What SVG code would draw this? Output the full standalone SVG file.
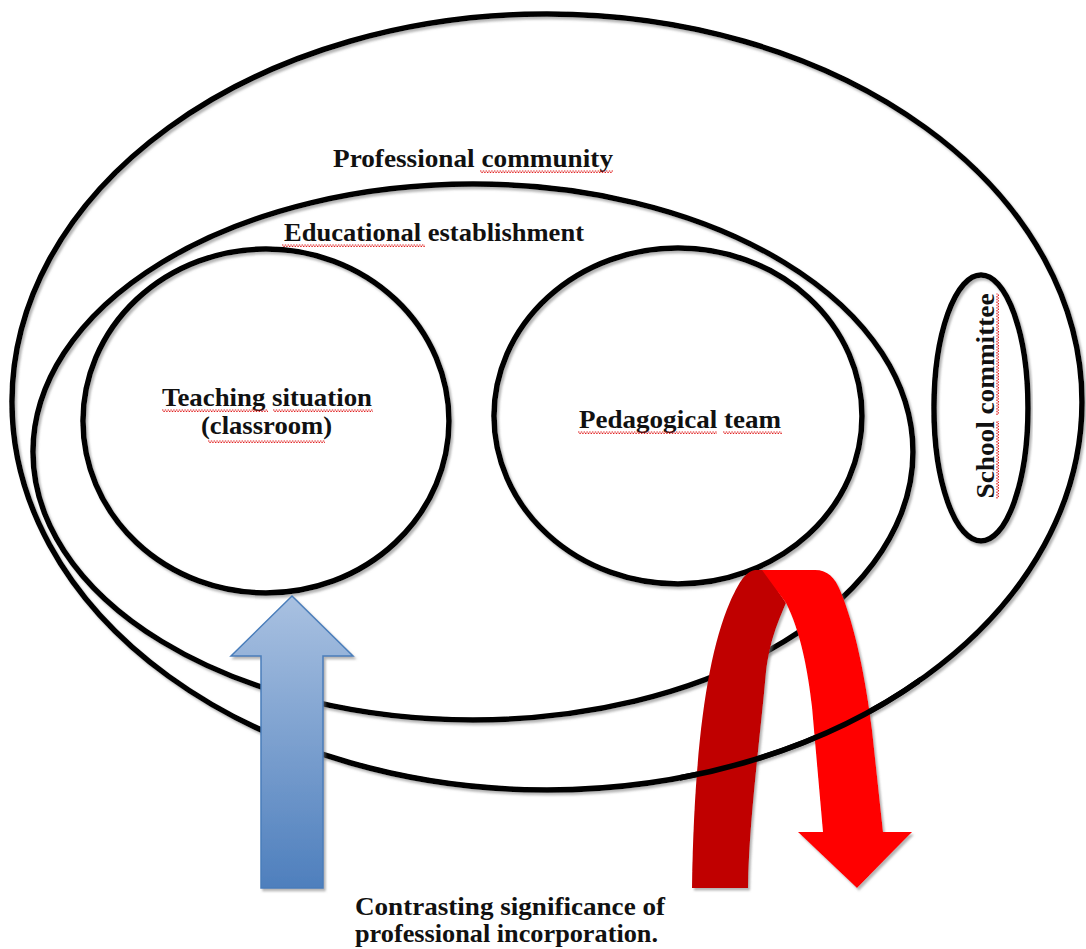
<svg xmlns="http://www.w3.org/2000/svg" xmlns:xlink="http://www.w3.org/1999/xlink" width="1086" height="949" viewBox="0 0 1086 949">
  <defs>
    <style>
      .ring { fill: none; stroke: #000; stroke-width: 5.5; }
      .shadowed { filter: url(#sh); }
      .lbl { font-family: "Liberation Serif", "Times New Roman", serif; font-weight: bold; fill: #111; }
      .sq { stroke: #e02020; stroke-width: 1.2; stroke-dasharray: 1.4 1.4; fill: none; }
      .sq2 { stroke: #e02020; stroke-width: 1.2; stroke-dasharray: 1.4 1.4; stroke-dashoffset: 1.4; fill: none; }
    </style>
    <filter id="sh" x="-5%" y="-5%" width="110%" height="110%">
      <feDropShadow dx="2" dy="2.5" stdDeviation="1" flood-color="#777" flood-opacity="0.55"/>
    </filter>
    <linearGradient id="blueGrad" x1="0" y1="596" x2="0" y2="888" gradientUnits="userSpaceOnUse">
      <stop offset="0" stop-color="#a9c1e1"/>
      <stop offset="1" stop-color="#4e7fbd"/>
    </linearGradient>
    <clipPath id="redArea">
      <rect x="680" y="560" width="240" height="340"/>
    </clipPath>
    <ellipse id="outerShape" cx="547" cy="402" rx="535" ry="388"/>
  </defs>

  <rect x="0" y="0" width="1086" height="949" fill="#fff"/>

  <g id="node-professional-community">
    <use xlink:href="#outerShape" class="ring shadowed"/>
    <text class="lbl" x="333" y="167" font-size="26" textLength="280" lengthAdjust="spacingAndGlyphs">Professional community</text>
    <line class="sq" x1="480" y1="171" x2="613" y2="171"/>
    <line class="sq2" x1="480" y1="172.4" x2="613" y2="172.4"/>
  </g>

  <g id="node-educational-establishment">
    <ellipse class="ring shadowed" cx="473" cy="452" rx="440" ry="268"/>
    <text class="lbl" x="284" y="241" font-size="26" textLength="300" lengthAdjust="spacingAndGlyphs">Educational establishment</text>
    <line class="sq" x1="282" y1="245" x2="425" y2="245"/>
    <line class="sq2" x1="282" y1="246.4" x2="425" y2="246.4"/>
  </g>

  <g id="node-teaching-situation">
    <ellipse class="ring shadowed" cx="266" cy="421" rx="183" ry="172"/>
    <text class="lbl" x="162" y="406" font-size="26" textLength="210" lengthAdjust="spacingAndGlyphs">Teaching situation</text>
    <text class="lbl" x="201" y="434" font-size="26" textLength="131" lengthAdjust="spacingAndGlyphs">(classroom)</text>
    <line class="sq" x1="162" y1="410" x2="268" y2="410"/>
    <line class="sq2" x1="162" y1="411.4" x2="268" y2="411.4"/>
    <line class="sq" x1="273" y1="410" x2="373" y2="410"/>
    <line class="sq2" x1="273" y1="411.4" x2="373" y2="411.4"/>
    <line class="sq" x1="208" y1="441" x2="325" y2="441"/>
    <line class="sq2" x1="208" y1="442.4" x2="325" y2="442.4"/>
  </g>

  <g id="node-pedagogical-team">
    <ellipse class="ring shadowed" cx="678" cy="416" rx="184" ry="168"/>
    <text class="lbl" x="579" y="428" font-size="26" textLength="202" lengthAdjust="spacingAndGlyphs">Pedagogical team</text>
    <line class="sq" x1="578" y1="432" x2="717" y2="432"/>
    <line class="sq2" x1="578" y1="433.4" x2="717" y2="433.4"/>
    <line class="sq" x1="723" y1="432" x2="782" y2="432"/>
    <line class="sq2" x1="723" y1="433.4" x2="782" y2="433.4"/>
  </g>

  <g id="node-school-committee">
    <ellipse class="ring shadowed" cx="981" cy="408" rx="47" ry="133"/>
    <g transform="translate(994,396) rotate(-90)">
      <text class="lbl" x="0" y="0" font-size="26" text-anchor="middle" textLength="205" lengthAdjust="spacingAndGlyphs">School committee</text>
      <line class="sq" x1="-102.5" y1="3" x2="-25" y2="3"/>
      <line class="sq2" x1="-102.5" y1="4.4" x2="-25" y2="4.4"/>
      <line class="sq" x1="-19" y1="3" x2="102.5" y2="3"/>
      <line class="sq2" x1="-19" y1="4.4" x2="102.5" y2="4.4"/>
    </g>
  </g>

  <g id="connectors">
    <g id="red-arrow" class="shadowed">
      <path fill="#c00000" d="M692,888 C694,760 705,660 730,602 C738,585 744,572 755,570 L764,570 L786,603 C778,622 770,640 766,672 C760,740 749,820 748,888 Z"/>
      <path fill="#ff0000" d="M762,570 L815,570 C828,570 835,578 840,590 C855,625 866,680 872,730 L883,832 L912,832 L857,888 L798,832 L823,832 L812,707 C808,670 800,630 786,603 Z"/>
    </g>
    <use xlink:href="#outerShape" class="ring" clip-path="url(#redArea)"/>
    <polygon id="blue-arrow" class="shadowed" fill="url(#blueGrad)" stroke="#4a7ebb" stroke-width="1.5" points="292,596 353,656 323,656 323,888 261,888 261,656 231,656"/>
  </g>

  <g id="caption">
    <text class="lbl" x="355" y="915" font-size="26" textLength="310" lengthAdjust="spacingAndGlyphs">Contrasting significance of</text>
    <text class="lbl" x="355" y="942" font-size="26" textLength="303" lengthAdjust="spacingAndGlyphs">professional incorporation.</text>
  </g>
</svg>
